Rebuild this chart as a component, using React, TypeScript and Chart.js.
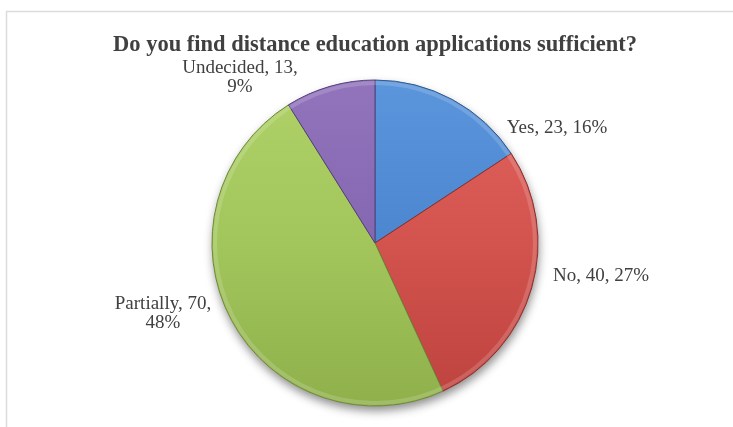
import React, { useEffect, useRef } from "react";
import { Chart, registerables } from "chart.js";

Chart.register(...registerables);

const TITLE = "Do you find distance education applications sufficient?";
const categories = ["Yes", "No", "Partially", "Undecided"];
const counts = [23, 40, 70, 13];

const lightColors = ["#5b95dc", "#e2655f", "#afd168", "#9274bd"];
const baseColors = ["#4c86cf", "#d3534e", "#a2c65c", "#8566b0"];
const darkColors = ["#3f72b6", "#bd423e", "#8fb04b", "#755a9e"];
const borderColors = ["#2f5a8e", "#8a2e2b", "#6c8836", "#54407a"];

// label placement: angle (deg clockwise from top), distance as fraction of radius
const labelAngles = [57.7, 98.3, 251.7, 320.7];
const labelDistances = [1.321, 1.401, 1.37, 1.308];
const labelWrap = [false, false, true, true];

const framePlugin = {
  id: "frame",
  beforeDraw(chart: any) {
    const c = chart.ctx;
    c.save();
    c.strokeStyle = "#dcdcdc";
    c.lineWidth = 1.5;
    c.beginPath();
    c.moveTo(6.5, chart.height);
    c.lineTo(6.5, 11.5);
    c.lineTo(chart.width, 11.5);
    c.stroke();
    c.restore();
  },
};

const shadowPlugin = {
  id: "pieShadow",
  beforeDatasetsDraw(chart: any) {
    const arc = chart.getDatasetMeta(0).data[0] as any;
    if (!arc) return;
    const { x, y, outerRadius } = arc.getProps(["x", "y", "outerRadius"], true);
    const c = chart.ctx;
    c.save();
    c.shadowColor = "rgba(0,0,0,0.45)";
    c.shadowBlur = 10;
    c.shadowOffsetX = 1;
    c.shadowOffsetY = 5;
    c.beginPath();
    c.arc(x, y, outerRadius, 0, Math.PI * 2);
    c.fillStyle = "#ffffff";
    c.fill();
    c.restore();
  },
  afterDatasetsDraw(chart: any) {
    const arc = chart.getDatasetMeta(0).data[0] as any;
    if (!arc) return;
    const { x, y, outerRadius } = arc.getProps(["x", "y", "outerRadius"], true);
    const c = chart.ctx;
    c.save();
    c.strokeStyle = "rgba(255,255,255,0.16)";
    c.lineWidth = 4;
    c.beginPath();
    c.arc(x, y, outerRadius - 3, 0, Math.PI * 2);
    c.stroke();
    c.restore();
  },
};

const labelPlugin = {
  id: "pieLabels",
  afterDraw(chart: any) {
    const c = chart.ctx;
    const meta = chart.getDatasetMeta(0);
    const total = counts.reduce((a, b) => a + b, 0);
    c.save();
    c.fillStyle = "#404040";
    c.font = "19px 'Liberation Serif'";
    c.textAlign = "center";
    c.textBaseline = "middle";
    meta.data.forEach((el: any, i: number) => {
      const { x, y, outerRadius } = el.getProps(["x", "y", "outerRadius"], true);
      const a = (labelAngles[i] * Math.PI) / 180;
      const d = outerRadius * labelDistances[i];
      const lx = x + d * Math.sin(a);
      const ly = y - d * Math.cos(a);
      const pct = Math.round((counts[i] / total) * 100) + "%";
      const lines = labelWrap[i]
        ? [`${categories[i]}, ${counts[i]},`, pct]
        : [`${categories[i]}, ${counts[i]}, ${pct}`];
      const lh = 19;
      lines.forEach((t, k) => c.fillText(t, lx, ly + (k - (lines.length - 1) / 2) * lh));
    });
    const area = chart.chartArea;
    c.font = "bold 22.5px 'Liberation Serif'";
    c.textBaseline = "alphabetic";
    c.fillStyle = "#404040";
    c.fillText(TITLE, (area.left + area.right) / 2, 51);
    c.restore();
  },
};

export default function App() {
  const ref = useRef<HTMLCanvasElement>(null);
  useEffect(() => {
    if (!ref.current) return;
    const chart = new Chart(ref.current, {
      type: "pie",
      data: {
        labels: categories,
        datasets: [
          {
            data: counts,
            backgroundColor: (ctx: any) => {
              const i = ctx.dataIndex;
              const area = ctx.chart.chartArea;
              if (!area) return baseColors[i];
              const g = ctx.chart.ctx.createLinearGradient(0, area.top, 0, area.bottom);
              g.addColorStop(0, lightColors[i]);
              g.addColorStop(0.5, baseColors[i]);
              g.addColorStop(1, darkColors[i]);
              return g;
            },
            borderColor: borderColors,
            borderWidth: 1,
            radius: 163,
          } as any,
        ],
      },
      options: {
        responsive: false,
        animation: false,
        layout: { padding: { left: 117, right: 100, top: 80, bottom: 21 } },
        plugins: {
          legend: { display: false },
          tooltip: { enabled: false },
          title: { display: false },
        },
      },
      plugins: [framePlugin, shadowPlugin, labelPlugin],
    });
    return () => chart.destroy();
  }, []);
  return (
    <div style={{ position: "absolute", left: 0, top: 0, width: 733, height: 427, background: "#fff" }}>
      <canvas ref={ref} width={733} height={427} style={{ display: "block" }} />
    </div>
  );
}
